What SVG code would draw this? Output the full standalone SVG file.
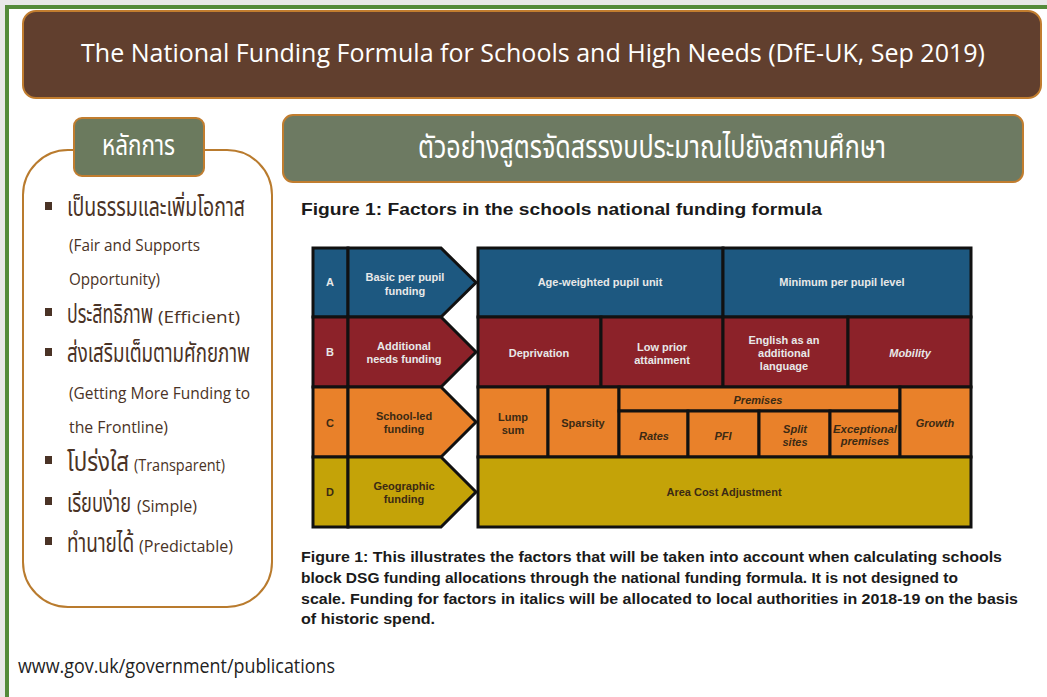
<svg xmlns="http://www.w3.org/2000/svg" width="1047" height="697" viewBox="0 0 1047 697">
<style>
.thai{font-family:"Noto Sans Thai","Noto Sans Thai UI","Noto Sans","DejaVu Sans",sans-serif;}
.lp{fill:#4a3326;}
.th{font-size:26px;}
.en{font-family:"Open Sans","Noto Sans",sans-serif;font-size:16px;fill:#4a3326;}
.fig{font-family:"Liberation Sans",Arial,sans-serif;font-weight:bold;font-size:11px;text-anchor:middle;}
.lt{fill:#e8e8e8;}
.dk{fill:#3b2a14;}
.it{font-style:italic;}
.cell{stroke:#111;stroke-width:3;}
.blue{fill:#1d5880;}
.red{fill:#8c2229;}
.org{fill:#e9812a;}
.yel{fill:#c4a308;}
.cap{font-family:"Liberation Sans",Arial,sans-serif;font-weight:bold;font-size:15px;fill:#1a1a1a;}
</style>
<rect x="0" y="0" width="1047" height="697" fill="#e8e8e8"/>
<rect x="5" y="5" width="1042" height="692" fill="#ffffff"/>
<rect x="5" y="5" width="1042" height="4" fill="#548b3a"/>
<rect x="5" y="5" width="4" height="692" fill="#548b3a"/>

<g id="title">
<rect x="23" y="11" width="1018" height="87" rx="13" fill="#613f2e" stroke="#c17d2f" stroke-width="2"/>
<text x="81" y="62" font-family="Open Sans, Noto Sans, sans-serif" font-size="26" fill="#ffffff" textLength="904" lengthAdjust="spacingAndGlyphs">The National Funding Formula for Schools and High Needs (DfE-UK, Sep 2019)</text>
</g>

<g id="principles">
<rect x="23" y="150" width="249" height="457" rx="45" fill="#ffffff" stroke="#b97b2e" stroke-width="2"/>
<rect x="74" y="118" width="130" height="58" rx="8" fill="#6b7a5e" stroke="#c17d2f" stroke-width="2"/>
<text x="102" y="155" class="thai" font-size="28" fill="#ffffff" textLength="73" lengthAdjust="spacingAndGlyphs">หลักการ</text>
<g class="lp">
<rect x="45" y="202" width="7" height="8"/>
<rect x="45" y="308" width="7" height="8"/>
<rect x="45" y="348" width="7" height="8"/>
<rect x="45" y="456" width="7" height="8"/>
<rect x="45" y="497" width="7" height="8"/>
<rect x="45" y="537" width="7" height="8"/>
</g>
<text x="67" y="216" class="thai lp th" textLength="178" lengthAdjust="spacingAndGlyphs">เป็นธรรมและเพิ่มโอกาส</text>
<text x="69" y="251" class="en" textLength="131" lengthAdjust="spacingAndGlyphs">(Fair and Supports</text>
<text x="69" y="285" class="en" textLength="91" lengthAdjust="spacingAndGlyphs">Opportunity)</text>
<text transform="translate(67,323) scale(0.7,1)" x="0" y="0" class="thai lp th" textLength="123" lengthAdjust="spacingAndGlyphs">ประสิทธิภาพ</text>
<text x="158" y="323" class="en" textLength="82" lengthAdjust="spacingAndGlyphs">(Efficient)</text>
<text x="67" y="362" class="thai lp th" textLength="183" lengthAdjust="spacingAndGlyphs">ส่งเสริมเต็มตามศักยภาพ</text>
<text x="69" y="399" class="en" textLength="181" lengthAdjust="spacingAndGlyphs">(Getting More Funding to</text>
<text x="69" y="433" class="en" textLength="99" lengthAdjust="spacingAndGlyphs">the Frontline)</text>
<text transform="translate(67,471) scale(0.85,1)" x="0" y="0" class="thai lp th" textLength="73" lengthAdjust="spacingAndGlyphs">โปร่งใส</text>
<text x="134" y="471" class="en" textLength="91" lengthAdjust="spacingAndGlyphs">(Transparent)</text>
<text transform="translate(67,512) scale(0.72,1)" x="0" y="0" class="thai lp th" textLength="89" lengthAdjust="spacingAndGlyphs">เรียบง่าย</text>
<text x="137" y="512" class="en" textLength="60" lengthAdjust="spacingAndGlyphs">(Simple)</text>
<text transform="translate(67,552) scale(0.85,1)" x="0" y="0" class="thai lp th" textLength="79" lengthAdjust="spacingAndGlyphs">ทำนายได้</text>
<text x="139" y="552" class="en" textLength="94" lengthAdjust="spacingAndGlyphs">(Predictable)</text>
</g>

<g id="example-header">
<rect x="283" y="115" width="740" height="67" rx="10" fill="#6d7a62" stroke="#c17d2f" stroke-width="2"/>
<text x="418" y="158" class="thai" font-size="32" fill="#ffffff" textLength="468" lengthAdjust="spacingAndGlyphs">ตัวอย่างสูตรจัดสรรงบประมาณไปยังสถานศึกษา</text>
</g>

<text x="301" y="215" font-family="Liberation Sans, Arial, sans-serif" font-weight="bold" font-size="17" fill="#1a1a1a" textLength="521" lengthAdjust="spacingAndGlyphs">Figure 1: Factors in the schools national funding formula</text>

<g id="row-a">
<rect x="313" y="248" width="35" height="69" class="cell blue"/>
<polygon points="348,248 441,248 476,282.5 441,317 348,317" class="cell blue"/>
<text x="330" y="286" class="fig lt">A</text>
<text x="405" y="281" class="fig lt">Basic per pupil</text>
<text x="405" y="295" class="fig lt">funding</text>
</g>
<g id="row-b">
<rect x="313" y="317" width="35" height="70" class="cell red"/>
<polygon points="348,317 441,317 476,352 441,387 348,387" class="cell red"/>
<text x="330" y="356" class="fig lt">B</text>
<text x="404" y="350" class="fig lt">Additional</text>
<text x="404" y="363" class="fig lt">needs funding</text>
</g>
<g id="row-c">
<rect x="313" y="387" width="35" height="70" class="cell org"/>
<polygon points="348,387 441,387 476,422 441,457 348,457" class="cell org"/>
<text x="330" y="427" class="fig dk">C</text>
<text x="404" y="420" class="fig dk">School-led</text>
<text x="404" y="433" class="fig dk">funding</text>
</g>
<g id="row-d">
<rect x="313" y="457" width="35" height="70" class="cell yel"/>
<polygon points="348,457 441,457 476,492 441,527 348,527" class="cell yel"/>
<text x="330" y="496" class="fig dk">D</text>
<text x="404" y="490" class="fig dk">Geographic</text>
<text x="404" y="503" class="fig dk">funding</text>
</g>

<g id="factor-age-weighted">
<rect x="478" y="248" width="245" height="69" class="cell blue"/>
<text x="600" y="286" class="fig lt">Age-weighted pupil unit</text>
</g>
<g id="factor-minimum">
<rect x="723" y="248" width="248" height="69" class="cell blue"/>
<text x="842" y="286" class="fig lt">Minimum per pupil level</text>
</g>
<g id="factor-deprivation">
<rect x="478" y="317" width="123" height="70" class="cell red"/>
<text x="539" y="357" class="fig lt">Deprivation</text>
</g>
<g id="factor-low-prior">
<rect x="601" y="317" width="122" height="70" class="cell red"/>
<text x="662" y="351" class="fig lt">Low prior</text>
<text x="662" y="364" class="fig lt">attainment</text>
</g>
<g id="factor-eal">
<rect x="723" y="317" width="125" height="70" class="cell red"/>
<text x="784" y="344" class="fig lt">English  as an</text>
<text x="784" y="357" class="fig lt">additional</text>
<text x="784" y="370" class="fig lt">language</text>
</g>
<g id="factor-mobility">
<rect x="848" y="317" width="123" height="70" class="cell red"/>
<text x="910" y="357" class="fig lt it">Mobility</text>
</g>
<g id="factor-lump-sum">
<rect x="478" y="387" width="70" height="70" class="cell org"/>
<text x="513" y="421" class="fig dk">Lump</text>
<text x="513" y="434" class="fig dk">sum</text>
</g>
<g id="factor-sparsity">
<rect x="548" y="387" width="71" height="70" class="cell org"/>
<text x="583" y="427" class="fig dk">Sparsity</text>
</g>
<g id="factor-premises">
<rect x="619" y="387" width="281" height="24" class="cell org"/>
<text x="758" y="404" class="fig dk it">Premises</text>
</g>
<g id="factor-rates">
<rect x="619" y="411" width="69" height="46" class="cell org"/>
<text x="654" y="440" class="fig dk it">Rates</text>
</g>
<g id="factor-pfi">
<rect x="688" y="411" width="71" height="46" class="cell org"/>
<text x="723" y="440" class="fig dk it">PFI</text>
</g>
<g id="factor-split-sites">
<rect x="759" y="411" width="71" height="46" class="cell org"/>
<text x="795" y="433" class="fig dk it">Split</text>
<text x="795" y="446" class="fig dk it">sites</text>
</g>
<g id="factor-exceptional">
<rect x="830" y="411" width="70" height="46" class="cell org"/>
<text x="865" y="433" class="fig dk it" font-size="10" textLength="64" lengthAdjust="spacingAndGlyphs">Exceptional</text>
<text x="865" y="445" class="fig dk it" font-size="10">premises</text>
</g>
<g id="factor-growth">
<rect x="900" y="387" width="71" height="70" class="cell org"/>
<text x="935" y="427" class="fig dk it">Growth</text>
</g>
<g id="factor-area-cost">
<rect x="478" y="457" width="493" height="70" class="cell yel"/>
<text x="724" y="496" class="fig dk">Area Cost Adjustment</text>
</g>

<g id="caption">
<text x="301" y="562" class="cap" textLength="701" lengthAdjust="spacingAndGlyphs">Figure 1: This illustrates the factors that will be taken into account when calculating schools</text>
<text x="301" y="583" class="cap" textLength="657" lengthAdjust="spacingAndGlyphs">block DSG funding allocations through the national funding formula. It is not designed to</text>
<text x="301" y="604" class="cap" textLength="717" lengthAdjust="spacingAndGlyphs">scale. Funding for factors in italics will be allocated to local authorities in 2018-19 on the basis</text>
<text x="301" y="624" class="cap" textLength="134" lengthAdjust="spacingAndGlyphs">of historic spend.</text>
</g>

<text x="18" y="673" font-family="Open Sans, Noto Sans, sans-serif" font-size="20" fill="#222222" textLength="317" lengthAdjust="spacingAndGlyphs">www.gov.uk/government/publications</text>
</svg>
